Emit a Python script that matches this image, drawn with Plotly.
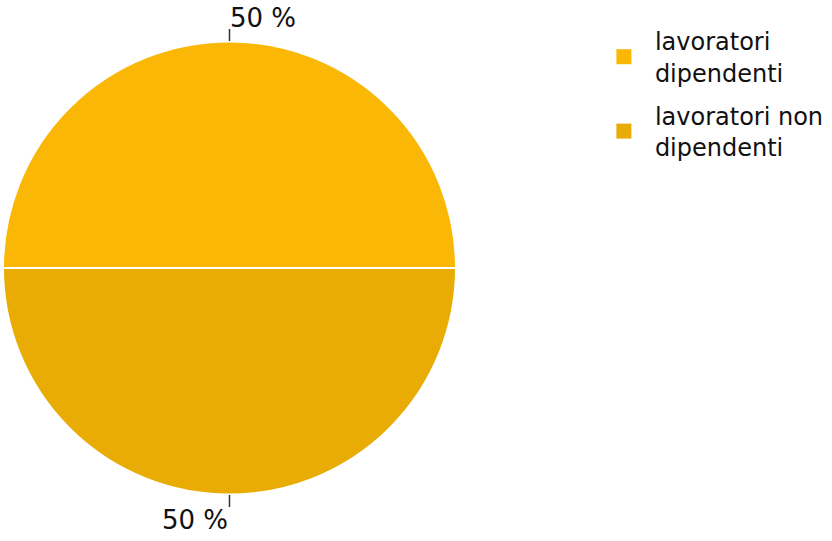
import math
import plotly.graph_objects as go

# Ripartizione dei lavoratori
categorie = ["lavoratori<br>dipendenti", "lavoratori non<br>dipendenti"]
valori = [50, 50]
colori = ["#FAB706", "#E8AC05"]

W, H = 832, 541
M_L, M_R, M_T, M_B = 3, 369, 38, 43
PLOT_W = W - M_L - M_R
PLOT_H = H - M_T - M_B
PIE_INSET = 3  # plotly draws the pie slightly inside its domain
CX, CY = M_L + PLOT_W / 2, M_T + PLOT_H / 2
RAD = min(PLOT_W, PLOT_H) / 2 - PIE_INSET
ROTATION = 270
TICK = 12
LABEL_FONT = dict(family="DejaVu Sans", size=26, color="#111111")
LEGEND_FONT = dict(family="DejaVu Sans", size=24, color="#111111")


def to_paper(px, py):
    return (px - M_L) / PLOT_W, (M_T + PLOT_H - py) / PLOT_H


fig = go.Figure()
fig.add_trace(go.Pie(
    labels=categorie,
    values=valori,
    sort=False,
    direction="clockwise",
    rotation=ROTATION,
    marker=dict(colors=colori, line=dict(color="white", width=2)),
    textinfo="none",
    hoverinfo="label+percent",
    showlegend=False,
))

# legend entries with larger square swatches
for i, (nome, col) in enumerate(zip(categorie, colori)):
    fig.add_trace(go.Scatter(
        x=[None], y=[None], mode="markers", name=nome,
        legendgroup=f"g{i}",
        marker=dict(symbol="square", size=15, color=col),
        hoverinfo="skip",
    ))

# outside percentage labels with short leader ticks
totale = sum(valori)
cum = 0
shapes, annots = [], []
for v in valori:
    theta = ROTATION + (cum + v / 2) / totale * 360
    cum += v
    t = math.radians(theta)
    x0, y0 = CX + RAD * math.sin(t), CY - RAD * math.cos(t)
    x1, y1 = CX + (RAD + TICK) * math.sin(t), CY - (RAD + TICK) * math.cos(t)
    a0, b0 = to_paper(x0, y0)
    a1, b1 = to_paper(x1, y1)
    shapes.append(dict(type="line", xref="paper", yref="paper",
                       x0=a0, y0=b0, x1=a1, y1=b1,
                       line=dict(color="#333333", width=1.5)))
    destra = (theta % 360) < 180
    sopra = math.cos(t) > 0
    annots.append(dict(
        xref="paper", yref="paper", x=a1, y=b1,
        text=f"{round(v / totale * 100)} %",
        showarrow=False, font=LABEL_FONT,
        xanchor="left" if destra else "right",
        yanchor="bottom" if sopra else "top",
        xshift=-1 if destra else 0,
        yshift=-6 if sopra else 4,
    ))

fig.update_layout(
    width=W, height=H,
    margin=dict(l=M_L, r=M_R, t=M_T, b=M_B),
    paper_bgcolor="white", plot_bgcolor="white",
    xaxis=dict(visible=False), yaxis=dict(visible=False),
    shapes=shapes, annotations=annots,
    font=LEGEND_FONT,
    legend=dict(
        x=(602 - M_L) / PLOT_W, y=(M_T + PLOT_H - 19) / PLOT_H,
        xanchor="left", yanchor="top",
        itemwidth=52, tracegroupgap=9,
        font=LEGEND_FONT, bgcolor="rgba(0,0,0,0)",
    ),
)

fig.write_html("out.html")
